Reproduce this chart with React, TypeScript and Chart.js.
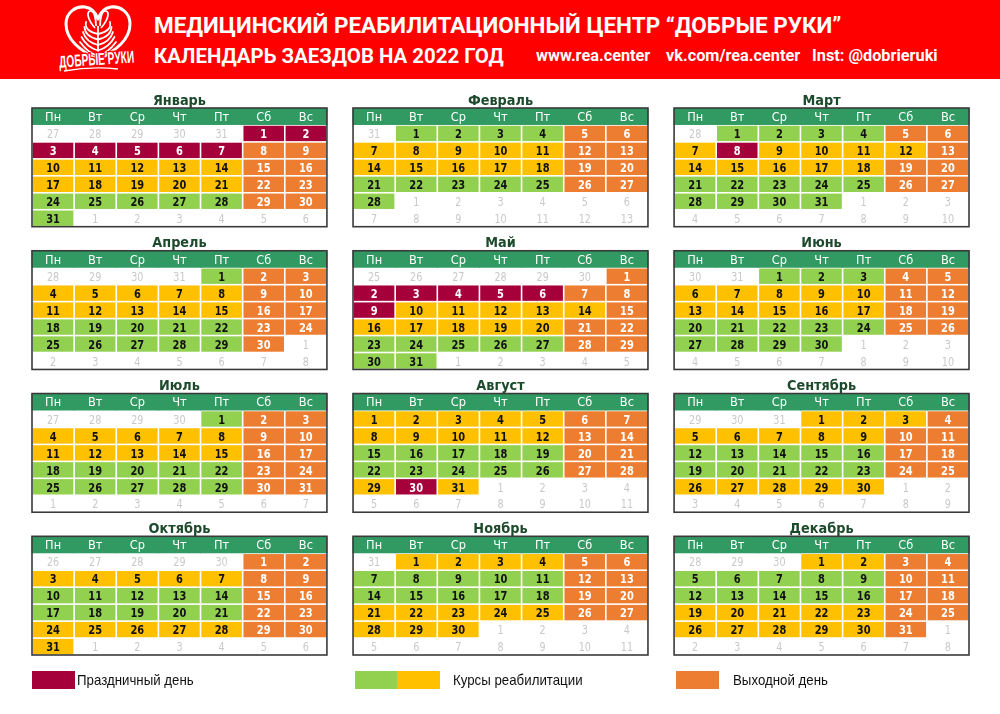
import React, { useEffect, useRef } from 'react';
import { Chart, registerables } from 'chart.js';

Chart.register(...registerables);

// ---------- data ----------
const YEAR = 2022;
const MONTH_NAMES = ['Январь', 'Февраль', 'Март', 'Апрель', 'Май', 'Июнь', 'Июль', 'Август', 'Сентябрь', 'Октябрь', 'Ноябрь', 'Декабрь'];
const WEEKDAYS = ['Пн', 'Вт', 'Ср', 'Чт', 'Пт', 'Сб', 'Вс'];
// status of each day of the month: H = holiday, G / Y = rehabilitation course, O = day off
const JAN = 'HHHHHHHOOYYYYYOOYYYYYOOGGGGGOOG';
const FEB = 'GGGGOOYYYYYOOYYYYYOOGGGGGOOG';
const MAR = 'GGGGOOYHYYYYOYYYYYOOGGGGGOOGGGG';
const APR = 'GOOYYYYYOOYYYYYOOGGGGGOOGGGGGO';
const MAY = 'OHHHHHOOHYYYYYOYYYYYOOGGGGGOOGG';
const JUN = 'GGGOOYYYYYOOYYYYYOOGGGGGOOGGGG';
const JUL = 'GOOYYYYYOOYYYYYOOGGGGGOOGGGGGOO';
const AUG = 'YYYYYOOYYYYYOOGGGGGOOGGGGGOOYHY';
const SEP = 'YYYOYYYYYOOGGGGGOOGGGGGOOYYYYY';
const OCT = 'OOYYYYYOOGGGGGOOGGGGGOOYYYYYOOY';
const NOV = 'YYYYOOGGGGGOOGGGGGOOYYYYYOOYYY';
const DEC = 'YYOOGGGGGOOGGGGGOOYYYYYOOYYYYYO';
const MONTH_STATUS = [JAN, FEB, MAR, APR, MAY, JUN, JUL, AUG, SEP, OCT, NOV, DEC];
const LEGEND_LABELS = ['Праздничный день', 'Курсы реабилитации', 'Выходной день'];

// ---------- styles ----------
const COLORS: Record<string, string> = { H: '#a6003b', G: '#92d050', Y: '#ffc000', O: '#ed7d31' };
const HEADER_GREEN = '#319a62';
const TITLE_GREEN = '#1d4a2c';
const GREY_TEXT = '#c9c9c9';
const STRIDE_X = 7.62;
const STRIDE_Y = 8.42;
const X_MAX = 2 * STRIDE_X + 7;
const Y_MAX = 3 * STRIDE_Y + 7;

type Pt = { x: number; y: number; label: string };

function buildData() {
  const byStatus: Record<string, Pt[]> = { H: [], G: [], Y: [], O: [], X: [] };
  const headers: Pt[] = [];
  const titles: Pt[] = [];
  MONTH_STATUS.forEach((st, m) => {
    const gx = (m % 3) * STRIDE_X;
    const gy = Math.floor(m / 3) * STRIDE_Y;
    const offset = (new Date(YEAR, m, 1).getDay() + 6) % 7;
    const dim = st.length;
    const prevDim = new Date(YEAR, m, 0).getDate();
    titles.push({ x: gx + 3.5, y: gy - 0.5, label: MONTH_NAMES[m] });
    WEEKDAYS.forEach((w, c) => headers.push({ x: gx + c + 0.5, y: gy + 0.5, label: w }));
    for (let i = 0; i < 42; i++) {
      const r = Math.floor(i / 7);
      const c = i % 7;
      let d = i - offset + 1;
      let s: string;
      if (d < 1) { d = prevDim + d; s = 'X'; }
      else if (d > dim) { d = d - dim; s = 'X'; }
      else s = st[d - 1];
      byStatus[s].push({ x: gx + c + 0.5, y: gy + r + 1.5, label: String(d) });
    }
  });
  return { byStatus, headers, titles };
}

function drawText(ctx: CanvasRenderingContext2D, text: string, x: number, y: number, size: number, weight: string, color: string, sx: number, family = '"DejaVu Sans", sans-serif') {
  ctx.save();
  ctx.translate(x, y);
  ctx.scale(sx, 1);
  ctx.font = `${weight} ${size}px ${family}`;
  ctx.fillStyle = color;
  ctx.textAlign = 'center';
  ctx.textBaseline = 'alphabetic';
  ctx.fillText(text, 0, size * 0.365);
  ctx.restore();
}

const calendarPlugin = {
  id: 'calendarCells',
  afterDatasetsDraw(chart: any) {
    const ctx: CanvasRenderingContext2D = chart.ctx;
    const xs = chart.scales.x;
    const ys = chart.scales.y;
    const cw = xs.getPixelForValue(1) - xs.getPixelForValue(0);
    const ch = Math.abs(ys.getPixelForValue(1) - ys.getPixelForValue(0));
    ctx.save();
    chart.data.datasets.forEach((ds: any, di: number) => {
      const meta = chart.getDatasetMeta(di);
      const kind = ds.label;
      meta.data.forEach((el: any, j: number) => {
        const raw: Pt = ds.data[j];
        const px = el.x;
        const py = el.y;
        if (kind === 'title') {
          drawText(ctx, raw.label, px, py, 14, 'bold', TITLE_GREEN, 0.92);
        } else if (kind === 'header') {
          ctx.fillStyle = HEADER_GREEN;
          ctx.fillRect(px - cw / 2 - 0.5, py - ch / 2, cw + 1, ch);
          drawText(ctx, raw.label, px, py, 12, 'normal', '#ffffff', 0.95);
        } else if (kind === 'X') {
          drawText(ctx, raw.label, px, py, 13, 'normal', GREY_TEXT, 0.74);
        } else {
          ctx.fillStyle = COLORS[kind];
          ctx.fillRect(px - cw / 2 + 0.8, py - ch / 2 + 0.8, cw - 1.6, ch - 1.6);
          const tc = kind === 'H' || kind === 'O' ? '#ffffff' : '#111111';
          drawText(ctx, raw.label, px, py, 13, 'bold', tc, 0.76);
        }
      });
    });
    // month frames
    ctx.strokeStyle = '#3a3a3a';
    ctx.lineWidth = 1.6;
    MONTH_STATUS.forEach((_, m) => {
      const gx = (m % 3) * STRIDE_X;
      const gy = Math.floor(m / 3) * STRIDE_Y;
      const x0 = xs.getPixelForValue(gx);
      const x1 = xs.getPixelForValue(gx + 7);
      const y0 = ys.getPixelForValue(gy);
      const y1 = ys.getPixelForValue(gy + 7);
      ctx.strokeRect(x0, y0, x1 - x0, y1 - y0);
    });
    ctx.restore();
  },
};

function Logo() {
  const leaves: string[] = [];
  for (let i = 0; i < 5; i++) {
    const y = 56 - i * 5.5;
    leaves.push(`M 98 ${y} Q ${88 - i} ${y - 3} ${80 + i * 1.5} ${y - 14 + i * 0.5}`);
    leaves.push(`M 98 ${y} Q ${108 + i} ${y - 3} ${116 - i * 1.5} ${y - 14 + i * 0.5}`);
  }
  return (
    <svg width={160} height={79} viewBox="0 0 160 79" style={{ position: 'absolute', left: 0, top: 0 }}>
      <path d="M 98 60 C 80 50, 66 40, 66 24 C 66 12, 76 6, 85 7 C 92 8, 96 13, 98 19 C 100 13, 104 8, 111 7 C 120 6, 130 12, 130 24 C 130 40, 116 50, 98 60 Z" fill="none" stroke="#fff" strokeWidth={3} strokeLinejoin="round" />
      <path d="M 98 58 L 98 26" stroke="#fff" strokeWidth={1.8} fill="none" />
      {leaves.map((d, i) => (
        <path key={i} d={d} stroke="#fff" strokeWidth={1.8} fill="none" strokeLinecap="round" />
      ))}
      <path d="M 95 28 C 88 20, 86 12, 90 11 C 94 10, 96 18, 96 26" stroke="#fff" strokeWidth={1.8} fill="none" />
      <path d="M 101 28 C 108 20, 110 12, 106 11 C 102 10, 100 18, 100 26" stroke="#fff" strokeWidth={1.8} fill="none" />
      <text x={59} y={65} fill="#fff" stroke="#ff0000" strokeWidth={3} style={{ paintOrder: 'stroke' } as any} fontWeight="bold" fontSize={17} fontFamily='"Liberation Sans Narrow", "Liberation Sans", sans-serif' textLength={75} lengthAdjust="spacingAndGlyphs" transform="rotate(-4 97 58)">ДОБРЫЕ РУКИ</text>
      <path d="M 64 71 Q 92 66 118 69" stroke="#fff" strokeWidth={1.4} fill="none" />
    </svg>
  );
}

const headText = (extra: React.CSSProperties): React.CSSProperties => ({
  position: 'absolute',
  color: '#fff',
  fontFamily: 'Roboto, sans-serif',
  fontWeight: 700,
  lineHeight: 1,
  whiteSpace: 'nowrap',
  ...extra,
});

const legendText: React.CSSProperties = {
  position: 'absolute',
  top: 671,
  fontFamily: '"Liberation Sans", sans-serif',
  fontSize: 15,
  lineHeight: '18px',
  color: '#111',
  whiteSpace: 'nowrap',
  transform: 'scaleX(0.885)',
  transformOrigin: 'left center',
};

export default function App() {
  const canvasRef = useRef<HTMLCanvasElement | null>(null);

  useEffect(() => {
    if (!canvasRef.current) return;
    const { byStatus, headers, titles } = buildData();
    const mk = (label: string, data: Pt[]) => ({ label, data, pointRadius: 0, pointHoverRadius: 0, showLine: false });
    const chart = new Chart(canvasRef.current, {
      type: 'scatter',
      data: {
        datasets: [
          mk('title', titles),
          mk('header', headers),
          mk('H', byStatus.H),
          mk('G', byStatus.G),
          mk('Y', byStatus.Y),
          mk('O', byStatus.O),
          mk('X', byStatus.X),
        ] as any,
      },
      options: {
        animation: false,
        responsive: false,
        maintainAspectRatio: false,
        events: [],
        layout: { padding: { left: 32, right: 31, top: 108, bottom: 59 } },
        scales: {
          x: { type: 'linear', min: 0, max: X_MAX, display: false },
          y: { type: 'linear', min: 0, max: Y_MAX, reverse: true, display: false },
        },
        plugins: { legend: { display: false }, tooltip: { enabled: false }, title: { display: false } },
      },
      plugins: [calendarPlugin as any],
    });
    return () => chart.destroy();
  }, []);

  return (
    <div style={{ position: 'fixed', left: 0, top: 0, width: 1000, height: 714, background: '#fff', overflow: 'hidden' }}>
      <canvas ref={canvasRef} width={1000} height={714} style={{ position: 'absolute', left: 0, top: 0, width: 1000, height: 714 }} />
      <div style={{ position: 'absolute', left: 0, top: 0, width: 1000, height: 79, background: '#ff0000' }}>
        <Logo />
        <div style={headText({ left: 154, top: 14, fontSize: 22.5 })}>МЕДИЦИНСКИЙ РЕАБИЛИТАЦИОННЫЙ ЦЕНТР “ДОБРЫЕ РУКИ”</div>
        <div style={headText({ left: 154, top: 46, fontSize: 20.4 })}>КАЛЕНДАРЬ ЗАЕЗДОВ НА 2022 ГОД</div>
        <div style={headText({ left: 536, top: 48, fontSize: 16.3 })}>www.rea.center</div>
        <div style={headText({ left: 666, top: 48, fontSize: 16.3 })}>vk.com/rea.center</div>
        <div style={headText({ left: 812, top: 48, fontSize: 16.3 })}>Inst: @dobrieruki</div>
      </div>
      <div style={{ position: 'absolute', left: 32, top: 671, width: 43, height: 18, background: COLORS.H }} />
      <div style={{ ...legendText, left: 77 }}>{LEGEND_LABELS[0]}</div>
      <div style={{ position: 'absolute', left: 355, top: 671, width: 42, height: 18, background: COLORS.G }} />
      <div style={{ position: 'absolute', left: 397, top: 671, width: 43, height: 18, background: COLORS.Y }} />
      <div style={{ ...legendText, left: 453 }}>{LEGEND_LABELS[1]}</div>
      <div style={{ position: 'absolute', left: 676, top: 671, width: 43, height: 18, background: COLORS.O }} />
      <div style={{ ...legendText, left: 733 }}>{LEGEND_LABELS[2]}</div>
    </div>
  );
}
